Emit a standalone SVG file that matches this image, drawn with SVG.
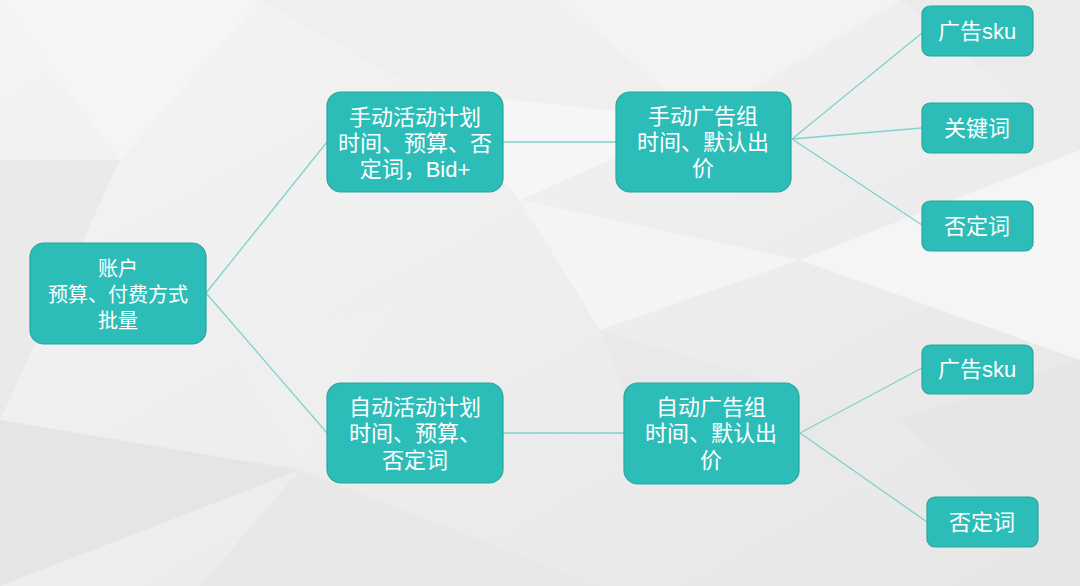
<svg xmlns="http://www.w3.org/2000/svg" width="1080" height="586" viewBox="0 0 1080 586">
<style>
.node rect{fill:#2dbdb8;stroke:#27a5a0;stroke-width:1.2}
.node text{fill:#ffffff;font-family:"Liberation Sans","Noto Sans CJK SC",sans-serif;text-anchor:middle;dominant-baseline:central}
.t22{font-size:22px}
.t20{font-size:20px}
#connectors line{stroke:#7fd2ce;stroke-width:1.3}
</style>
<defs>
<linearGradient id="bg" x1="0" y1="0" x2="1" y2="1">
<stop offset="0" stop-color="#f4f4f4"/>
<stop offset="0.5" stop-color="#eeeeee"/>
<stop offset="1" stop-color="#e6e6e6"/>
</linearGradient>
</defs>
<g id="background">
<rect width="1080" height="586" fill="url(#bg)"/>
<polygon points="0,0 260,0 120,160" fill="#f5f5f5"/>
<polygon points="260,0 560,0 420,90" fill="#efefef"/>
<polygon points="560,0 900,0 700,120" fill="#f3f3f3"/>
<polygon points="420,90 700,120 520,200" fill="#f6f6f6"/>
<polygon points="900,0 1080,0 1080,150" fill="#ebebeb"/>
<polygon points="0,160 120,160 0,420" fill="#eaeaea"/>
<polygon points="520,200 800,260 600,330" fill="#f4f4f4"/>
<polygon points="800,260 1080,150 1080,360" fill="#f5f5f5"/>
<polygon points="0,420 300,470 0,586" fill="#e5e5e5"/>
<polygon points="300,470 600,586 200,586" fill="#e8e8e8"/>
<polygon points="600,330 900,420 700,586" fill="#e9e9e9"/>
<polygon points="900,420 1080,360 1080,586" fill="#e6e6e6"/>
<polygon points="220,340 400,300 300,470" fill="#efefef"/>
</g>
<g id="connectors">
<line x1="206" y1="293" x2="327" y2="142"/>
<line x1="206" y1="293" x2="327" y2="433"/>
<line x1="503" y1="142" x2="616" y2="142"/>
<line x1="503" y1="433" x2="624" y2="433"/>
<line x1="792" y1="139" x2="922" y2="33"/>
<line x1="792" y1="139" x2="922" y2="128"/>
<line x1="792" y1="139" x2="922" y2="225"/>
<line x1="800" y1="433" x2="922" y2="368"/>
<line x1="800" y1="433" x2="927" y2="522"/>
</g>
<g id="account" class="node">
<rect x="30" y="243" width="176" height="101" rx="14"/>
<text class="t20" x="118" y="269"><tspan x="118" y="269">账户</tspan><tspan x="118" y="295">预算、付费方式</tspan><tspan x="118" y="321">批量</tspan></text>
</g>
<g id="manual-plan" class="node">
<rect x="327" y="92" width="176" height="100" rx="14"/>
<text class="t22" x="415" y="117"><tspan x="415" y="117">手动活动计划</tspan><tspan x="415" y="143">时间、预算、否</tspan><tspan x="415" y="169">定词，Bid+</tspan></text>
</g>
<g id="manual-group" class="node">
<rect x="616" y="92" width="175" height="100" rx="14"/>
<text class="t22" x="703" y="116"><tspan x="703" y="116">手动广告组</tspan><tspan x="703" y="142">时间、默认出</tspan><tspan x="703" y="168">价</tspan></text>
</g>
<g id="manual-sku" class="node">
<rect x="922" y="6" width="111" height="50" rx="8"/>
<text class="t22" x="977" y="31">广告sku</text>
</g>
<g id="manual-keyword" class="node">
<rect x="922" y="103" width="111" height="50" rx="8"/>
<text class="t22" x="977" y="128">关键词</text>
</g>
<g id="manual-negative" class="node">
<rect x="922" y="201" width="111" height="50" rx="8"/>
<text class="t22" x="977" y="226">否定词</text>
</g>
<g id="auto-plan" class="node">
<rect x="327" y="383" width="176" height="100" rx="14"/>
<text class="t22" x="415" y="407"><tspan x="415" y="407">自动活动计划</tspan><tspan x="415" y="433">时间、预算、</tspan><tspan x="415" y="460">否定词</tspan></text>
</g>
<g id="auto-group" class="node">
<rect x="624" y="383" width="175" height="101" rx="14"/>
<text class="t22" x="711" y="407"><tspan x="711" y="407">自动广告组</tspan><tspan x="711" y="433">时间、默认出</tspan><tspan x="711" y="460">价</tspan></text>
</g>
<g id="auto-sku" class="node">
<rect x="922" y="345" width="111" height="49" rx="8"/>
<text class="t22" x="977" y="369">广告sku</text>
</g>
<g id="auto-negative" class="node">
<rect x="927" y="497" width="111" height="50" rx="8"/>
<text class="t22" x="982" y="522">否定词</text>
</g>
</svg>
